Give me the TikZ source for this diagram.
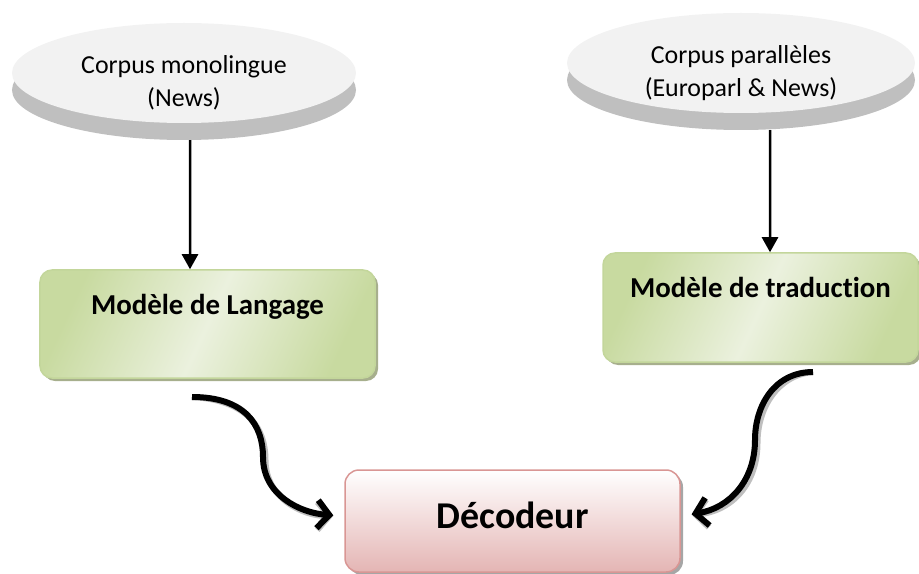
\documentclass[tikz,border=0pt]{standalone}
\usepackage{fontspec}
\setmainfont[Ligatures=NoCommon]{Carlito}
\usetikzlibrary{shapes.geometric,arrows.meta,shadows}
\definecolor{grisclair}{HTML}{F2F2F2}
\definecolor{grisombre}{HTML}{BFBFBF}
\definecolor{vertfonce}{HTML}{C8DAA0}
\definecolor{vertclair}{HTML}{EBF1DE}
\definecolor{vertbord}{HTML}{C3D69B}
\definecolor{vertombre}{HTML}{A7AF8D}
\definecolor{rosefonce}{HTML}{E4B5B4}
\definecolor{rosebord}{HTML}{D99694}
\tikzset{
  corpus/.style={ellipse, inner sep=0pt, minimum width=344bp, minimum height=100bp, fill=grisclair},
  corpusombre/.style={corpus, fill=grisombre},
  corpustxt/.style={align=center, font=\fontsize{26}{33}\selectfont},
  modele/.style={rectangle, rounded corners=12bp, inner sep=0pt, draw=vertbord, line width=1.5bp,
    left color=vertfonce, right color=vertfonce, middle color=vertclair, shading angle=65,
    drop shadow={shadow xshift=3bp, shadow yshift=-3bp, fill=vertombre, opacity=1},
    font=\fontsize{29}{34}\selectfont\bfseries, text height=19bp, text depth=39bp},
  decodeur/.style={rectangle, rounded corners=14bp, inner sep=0pt, draw=rosebord, line width=1.5bp,
    top color=white, bottom color=rosefonce,
    drop shadow={shadow xshift=3bp, shadow yshift=-3bp, fill=black!35, opacity=1},
    font=\fontsize{38}{44}\selectfont\bfseries, text height=26bp, text depth=12bp},
  fleche/.style={line width=2.5bp, -{Triangle[length=15bp,width=16bp]}},
  courbe/.style={line width=6bp, shorten >=11bp, -{Straight Barb[length=12bp,width=28bp]}},
  courbeombre/.style={courbe, black!25, xshift=2.5bp, yshift=-3bp}
}
\begin{document}
\begin{tikzpicture}[x=1bp, y=-1bp]
  \useasboundingbox (0,0) rectangle (919,574);
  \node[corpusombre] (ombA) at (184,90) {};
  \node[corpus] (corpA) at (184,73) {};
  \node[corpustxt] (txtA) at (184,83) {Corpus monolingue\\(News)};
  \node[corpusombre, minimum width=348bp] (ombB) at (741,80) {};
  \node[corpus, minimum width=348bp] (corpB) at (741,63) {};
  \node[corpustxt] (txtB) at (741,73) {Corpus parallèles\\(Europarl \& News)};

  \node[modele, minimum width=335bp, minimum height=108bp] (lang) at (207.5,324) {Modèle de Langage};
  \node[modele, minimum width=315bp, minimum height=109bp] (trad) at (760.5,307.5) {Modèle de traduction};
  \node[decodeur, minimum width=335bp, minimum height=102bp] (dec) at (512.5,521) {Décodeur};

  \draw[fleche] ([xshift=6bp]ombA.south) -- ([xshift=-17.5bp]lang.north);
  \draw[fleche] ([xshift=29bp]ombB.south) -- ([xshift=9.5bp]trad.north);

  \coordinate (depA) at (192,397);
  \coordinate (depB) at (813,372);
  \draw[courbeombre] (depA) .. controls (245,397) and (263,425) .. (263,457)
    .. controls (263,495) and (300,513) .. ([yshift=5bp]dec.west);
  \draw[courbe] (depA) .. controls (245,397) and (263,425) .. (263,457)
    .. controls (263,495) and (300,513) .. ([yshift=5bp]dec.west);
  \draw[courbeombre] (depB) .. controls (775,372) and (755,405) .. (755,440)
    .. controls (755,480) and (730,508) .. ([yshift=5bp]dec.east);
  \draw[courbe] (depB) .. controls (775,372) and (755,405) .. (755,440)
    .. controls (755,480) and (730,508) .. ([yshift=5bp]dec.east);
\end{tikzpicture}
\end{document}
